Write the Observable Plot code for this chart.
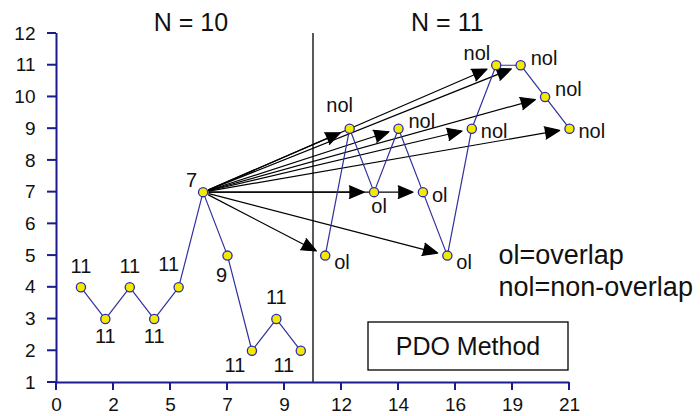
<!DOCTYPE html>
<html><head><meta charset="utf-8">
<script src="https://cdn.jsdelivr.net/npm/d3@7"></script>
<script src="https://cdn.jsdelivr.net/npm/@observablehq/plot@0.6"></script>
<style>
body{margin:0;background:#fff}
#chart{width:700px;height:416px}
#chart svg{font-family:'Liberation Sans', Arial, Helvetica, sans-serif;background:#fff}
</style>
</head><body><div id="chart"></div>
<script>
// ---- data ----
const xLeft = [1, 2, 3, 4, 5, 6, 7, 8, 9, 10];
const yLeft = [4, 3, 4, 3, 4, 7, 5, 2, 3, 2];
const labelsLeft = ["11", "11", "11", "11", "11", "7", "9", "11", "11", "11"];
const placeLeft = ["n", "s", "n", "s", "nw", "wnw", "ssw", "sw", "n", "sw"];

const xRight = [11, 12, 13, 14, 15, 16, 17, 18, 19, 20, 21];
const yRight = [5, 9, 7, 9, 7, 5, 9, 11, 11, 10, 9];
const labelsRight = ["ol", "nol", "ol", "nol", "ol", "ol", "nol", "nol", "nol", "nol", "nol"];
const placeRight = ["se", "nw", "sse", "ne", "e", "se", "e", "wnw", "ne", "ne", "e"];

const arrowSourceIndex = 5; // arrows leave the left-panel point labelled "7"
const panelTitles = ["N = 10", "N = 11"];
const legendLines = ["ol=overlap", "nol=non-overlap"];
const methodLabel = "PDO Method";
const xTickLabels = ["0", "2", "5", "7", "9", "12", "14", "16", "19", "21"];
const yTicks = [1, 2, 3, 4, 5, 6, 7, 8, 9, 10, 11, 12];

// ---- derived tables ----
const left = xLeft.map((x, i) => ({x, y: yLeft[i], label: labelsLeft[i], place: placeLeft[i], seg: "left"}));
const right = xRight.map((x, i) => ({x, y: yRight[i], label: labelsRight[i], place: placeRight[i], seg: "right"}));
const points = left.concat(right);
const src = left[arrowSourceIndex];
const xMax = +xTickLabels[xTickLabels.length - 1];
const xTickValues = xTickLabels.map((_, i) => i * xMax / (xTickLabels.length - 1));
const breakX = (xLeft[xLeft.length - 1] + xRight[0]) / 2;
const yMin = yTicks[0], yMax = yTicks[yTicks.length - 1];

const AXIS = "#1c1c8c";
const LINE = "#30309c";

const placements = {
  n:   {dx: 0,   dy: -21, anchor: "middle"},
  s:   {dx: 0,   dy: 18,  anchor: "middle"},
  nw:  {dx: -10, dy: -23, anchor: "middle"},
  sw:  {dx: -17, dy: 15,  anchor: "middle"},
  ssw: {dx: -6,  dy: 20,  anchor: "middle"},
  sse: {dx: 5,   dy: 14,  anchor: "middle"},
  wnw: {dx: -6,  dy: -12, anchor: "end"},
  e:   {dx: 9,   dy: 3,   anchor: "start"},
  ne:  {dx: 10,  dy: -7,  anchor: "start"},
  se:  {dx: 9,   dy: 7,   anchor: "start"}
};

const labelMarks = Object.entries(placements).map(([k, p]) =>
  Plot.text(points, {filter: d => d.place === k, x: "x", y: "y", text: "label",
    dx: p.dx, dy: p.dy, textAnchor: p.anchor, lineAnchor: "middle", fontSize: 20, fill: "#111"}));

// tick marks (filled slivers) and the annotation box, placed through the plot's scales
const overlay = (index, scales, values, dims) => {
  const r = dims.width - dims.marginRight, b = dims.height - dims.marginBottom;
  const g = d3.create("svg:g");
  const ticks = g.append("g").attr("fill", AXIS).attr("stroke", "none");
  for (const v of xTickValues) {
    const px = scales.x(v);
    ticks.append("rect").attr("x", px - 1).attr("y", scales.y(yMin)).attr("width", 2).attr("height", 8);
  }
  for (const v of yTicks) {
    const py = scales.y(v);
    ticks.append("rect").attr("x", scales.x(0) - 9).attr("y", py - 1).attr("width", 9).attr("height", 2);
  }
  g.append("rect").attr("x", r - 201).attr("y", b - 60).attr("width", 200).attr("height", 48)
    .attr("fill", "white").attr("stroke", "black").attr("stroke-width", 1.3);
  g.append("text").attr("x", r - 101).attr("y", b - 36).attr("text-anchor", "middle")
    .attr("dy", "0.35em").attr("font-size", 25).attr("fill", "#111").text(methodLabel);
  return g.node();
};

const chart = Plot.plot({
  width: 700, height: 416,
  marginLeft: 56, marginRight: 131, marginTop: 33, marginBottom: 34,
  x: {domain: [0, xMax], label: null},
  y: {domain: [yMin, yMax], label: null},
  marks: [
    Plot.ruleX([breakX], {y1: yMin, y2: yMax, stroke: "black", strokeWidth: 1.3}),
    Plot.arrow(right, {x1: () => src.x, y1: () => src.y, x2: "x", y2: "y",
      stroke: "black", fill: "black", strokeWidth: 1.2, headLength: 20, headAngle: 46,
      insetStart: 6, insetEnd: 10}),
    Plot.line(points, {x: "x", y: "y", z: "seg", stroke: LINE, strokeWidth: 1.2}),
    Plot.dot(points, {x: "x", y: "y", r: 4.6, fill: "#f3ea00", stroke: "#2c2cb4", strokeWidth: 1.3}),
    labelMarks,
    Plot.ruleY([yMin], {x1: 0, x2: xMax, stroke: AXIS, strokeWidth: 2}),
    Plot.ruleX([0], {y1: yMin, y2: yMax, stroke: AXIS, strokeWidth: 2}),
    Plot.axisX(xTickValues, {tickSize: 0, tickPadding: 15, fill: "#111", fontSize: 19, label: null,
      tickFormat: d => xTickLabels[xTickValues.indexOf(d)]}),
    Plot.axisY(yTicks, {tickSize: 0, tickPadding: 21, fill: "#111", fontSize: 19, label: null}),
    Plot.text(panelTitles, {x: (d, i) => i === 0 ? d3.mean(xLeft) : d3.mean(xRight), frameAnchor: "top",
      dy: -11, lineAnchor: "middle", textAnchor: "middle", fontSize: 25, fill: "#111"}),
    Plot.text([legendLines.join("\n")], {frameAnchor: "top-right", textAnchor: "start", lineAnchor: "middle",
      dx: -71, dy: 236, fontSize: 27, lineHeight: 1.2, fill: "#111"}),
    overlay
  ]
});
document.getElementById("chart").append(chart);
</script>
</body></html>
